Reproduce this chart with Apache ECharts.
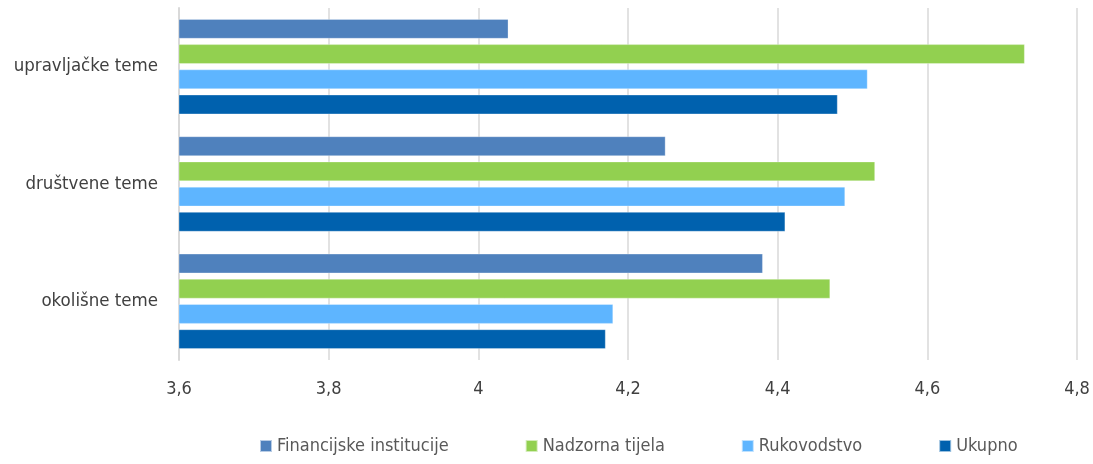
<!DOCTYPE html>
<html lang="hr">
<head>
  <meta charset="UTF-8">
  <title>teme</title>
  <style>
    html, body { margin: 0; padding: 0; background: #fff; }
    #chart { width: 1093px; height: 464px; }
  </style>
</head>
<body>
  <div id="chart"></div>
  <script src="https://cdn.jsdelivr.net/npm/echarts@6/dist/echarts.min.js"></script>
  <script>
    var categories = ['upravljačke teme', 'društvene teme', 'okolišne teme'];
    var seriesNames = ['Financijske institucije', 'Nadzorna tijela', 'Rukovodstvo', 'Ukupno'];
    var financijske = [4.04, 4.25, 4.38];
    var nadzorna = [4.73, 4.53, 4.47];
    var rukovodstvo = [4.52, 4.49, 4.18];
    var ukupno = [4.48, 4.41, 4.17];
    var colors = ['#4f81bd', '#92d050', '#5eb5ff', '#0061ae'];

    var font = '"Liberation Sans Narrow", "DejaVu Sans Condensed", "Roboto", sans-serif';
    var values = [financijske, nadzorna, rukovodstvo, ukupno];

    var myChart = echarts.init(document.getElementById('chart'));
    myChart.setOption({
      animation: false,
      color: colors,
      textStyle: { fontFamily: font },
      grid: { left: 179, right: 16, top: 8, bottom: 104 },
      legend: {
        bottom: 4,
        left: 254,
        itemWidth: 12,
        itemHeight: 12,
        itemGap: 76,
        icon: 'rect',
        textStyle: { fontSize: 18, color: '#595959', fontFamily: font },
        data: seriesNames
      },
      xAxis: {
        type: 'value',
        min: 3.6,
        max: 4.8,
        interval: 0.2,
        axisLine: { show: false },
        axisTick: { show: false },
        splitLine: { lineStyle: { color: '#d9d9d9', width: 1.5 } },
        axisLabel: {
          margin: 20,
          fontSize: 18,
          color: '#404040',
          fontFamily: font,
          formatter: function (v) {
            return String(Math.round(v * 10) / 10).replace('.', ',');
          }
        }
      },
      yAxis: {
        type: 'category',
        inverse: true,
        data: categories,
        axisLine: { show: true, lineStyle: { color: '#d9d9d9', width: 2 } },
        axisTick: { show: false },
        axisLabel: { margin: 21, fontSize: 18.5, color: '#404040', fontFamily: font, padding: [6, 0, 0, 0] }
      },
      series: seriesNames.map(function (name, i) {
        return {
          name: name,
          type: 'bar',
          data: values[i],
          barGap: '30%',
          barCategoryGap: '19%',
          itemStyle: { borderColor: 'rgba(255,255,255,0.6)', borderWidth: 0.5 }
        };
      })
    });
  </script>
</body>
</html>
